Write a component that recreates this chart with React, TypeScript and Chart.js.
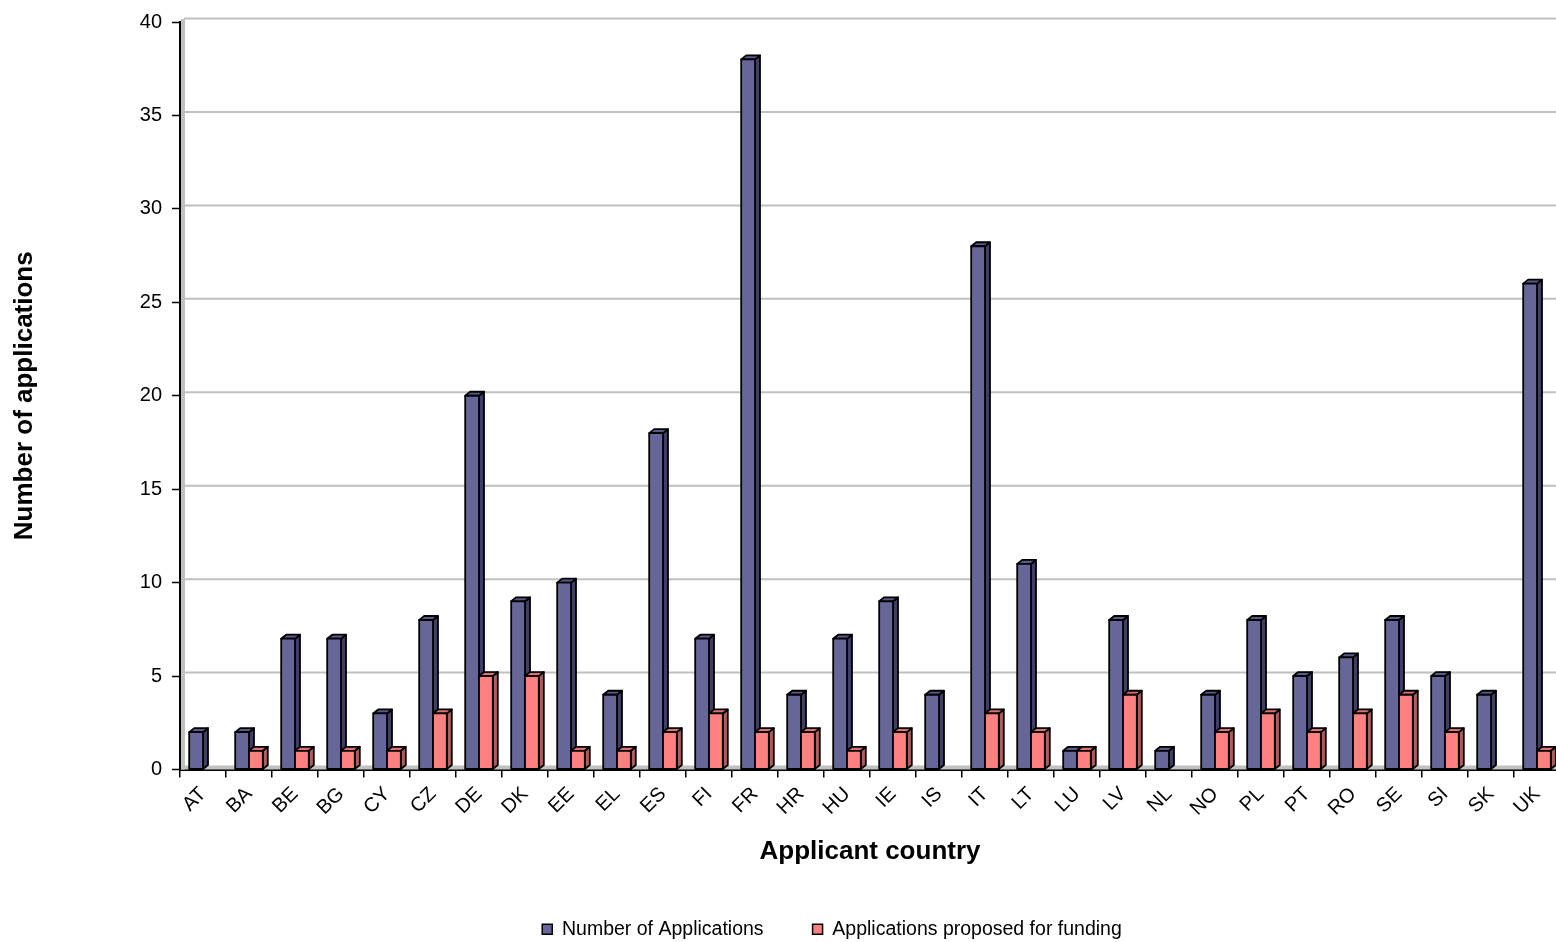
import React, { useEffect, useRef } from "react";
import { Chart, registerables } from "chart.js";

Chart.register(...registerables);

const categories = ["AT","BA","BE","BG","CY","CZ","DE","DK","EE","EL","ES","FI","FR","HR","HU","IE","IS","IT","LT","LU","LV","NL","NO","PL","PT","RO","SE","SI","SK","UK"];
const applications = [2,2,7,7,3,8,20,9,10,4,18,7,38,4,7,9,4,28,11,1,8,1,4,8,5,6,8,5,4,26];
const proposed = [0,1,1,1,1,3,5,5,1,1,2,3,2,2,1,2,0,3,2,1,4,0,2,3,2,3,4,2,0,1];
const yTicksMax = 40;
const yTickStep = 5;

const FONT = "'Liberation Sans', Arial, Helvetica, sans-serif";

const faceColors = [
  { front: "#666699", top: "#5a5a8a", side: "#3e3e66" },
  { front: "#ff8080", top: "#e07070", side: "#b35a5a" },
];

const depthPlugin = {
  id: "depth3d",
  afterLayout(chart: any) {
    const l = chart.legend;
    if (l) {
      l.left += 52;
      l.right += 52;
    }
  },
  beforeDatasetsDraw(chart: any) {
    const { ctx, chartArea } = chart;
    const { left, right, top, bottom } = chartArea;
    const dx = 5;
    const dy = -4;
    ctx.save();
    // back wall strip and floor
    ctx.fillStyle = "#c0c0c0";
    ctx.fillRect(left + 1, top - 3, 4, bottom - top + 3);
    ctx.fillRect(left + 1, bottom - 4, right - left, 4);
    // gridlines on the back wall
    const ys = chart.scales.y;
    ctx.strokeStyle = "#c0c0c0";
    ctx.lineWidth = 2;
    ys.ticks.forEach((t: any) => {
      if (t.value === 0) return;
      const py = ys.getPixelForValue(t.value) - 3.5;
      ctx.beginPath();
      ctx.moveTo(left + 4, py);
      ctx.lineTo(right, py);
      ctx.stroke();
    });
    ctx.lineWidth = 1.8;
    ctx.lineJoin = "round";
    ctx.strokeStyle = "#000";
    chart.data.datasets.forEach((ds: any, di: number) => {
      const meta = chart.getDatasetMeta(di);
      if (meta.hidden) return;
      const c = faceColors[di];
      meta.data.forEach((el: any, i: number) => {
        if (!ds.data[i]) return;
        const w = el.width;
        const l = el.x - w / 2;
        const r = el.x + w / 2;
        const y = el.y;
        const b = el.base;
        // side
        ctx.beginPath();
        ctx.moveTo(r, y);
        ctx.lineTo(r + dx, y + dy);
        ctx.lineTo(r + dx, b + dy);
        ctx.lineTo(r, b);
        ctx.closePath();
        ctx.fillStyle = c.side;
        ctx.fill();
        ctx.stroke();
        // top
        ctx.beginPath();
        ctx.moveTo(l, y);
        ctx.lineTo(l + dx, y + dy);
        ctx.lineTo(r + dx, y + dy);
        ctx.lineTo(r, y);
        ctx.closePath();
        ctx.fillStyle = c.top;
        ctx.fill();
        ctx.stroke();
        // front
        ctx.beginPath();
        ctx.rect(l, y, w, b - y);
        ctx.fillStyle = c.front;
        ctx.fill();
        ctx.stroke();
      });
    });
    ctx.restore();
    return false;
  },
};

export default function App() {
  const ref = useRef<HTMLCanvasElement | null>(null);

  useEffect(() => {
    if (!ref.current) return;
    const chart = new Chart(ref.current, {
      type: "bar",
      data: {
        labels: categories,
        datasets: [
          {
            label: "Number of Applications",
            data: applications,
            backgroundColor: faceColors[0].front,
            borderColor: "#000",
            borderWidth: 1.5,
          },
          {
            label: "Applications proposed for funding",
            data: proposed,
            backgroundColor: faceColors[1].front,
            borderColor: "#000",
            borderWidth: 1.5,
          },
        ],
      },
      options: {
        animation: false,
        responsive: false,
        layout: { padding: { top: 20, left: 0, right: 0, bottom: 0 } },
        datasets: {
          bar: { categoryPercentage: 0.6, barPercentage: 1.0 },
        },
        plugins: {
          tooltip: { enabled: false },
          legend: {
            position: "bottom",
            labels: {
              boxWidth: 10,
              boxHeight: 10,
              padding: 49,
              color: "#000",
              font: { family: FONT, size: 19.5 },
            },
          },
        },
        scales: {
          x: {
            offset: true,
            grid: {
              offset: true,
              drawOnChartArea: false,
              drawTicks: true,
              tickLength: 8,
              color: "#000",
              lineWidth: 1.5,
            },
            border: { display: true, color: "#000", width: 2 },
            ticks: {
              autoSkip: false,
              minRotation: 45,
              maxRotation: 45,
              padding: 5,
              color: "#000",
              font: { family: FONT, size: 20 },
            },
            title: {
              display: true,
              text: "Applicant country",
              color: "#000",
              font: { family: FONT, size: 26, weight: "bold" },
              padding: { top: 0, bottom: 3 },
            },
            afterFit: (s: any) => {
              s.height = 101;
            },
          },
          y: {
            min: 0,
            max: yTicksMax,
            grid: {
              drawOnChartArea: false,
              color: "#000",
              tickColor: "#000",
              tickLength: 8,
              tickWidth: 1.5,
            },
            border: { display: true, color: "#000", width: 2 },
            ticks: {
              stepSize: yTickStep,
              padding: 10,
              color: "#000",
              font: { family: FONT, size: 20 },
            },
            title: {
              display: true,
              text: "Number of applications",
              color: "#000",
              font: { family: FONT, size: 26, weight: "bold" },
              padding: { top: 9, bottom: 0 },
            },
            afterFit: (s: any) => {
              s.width = 180;
            },
          },
        },
      },
      plugins: [depthPlugin],
    } as any);
    return () => chart.destroy();
  }, []);

  return (
    <div
      style={{
        position: "absolute",
        left: 0,
        top: 0,
        width: 1556,
        height: 942,
        overflow: "hidden",
        background: "#fff",
      }}
    >
      <canvas ref={ref} width={1560} height={949} style={{ display: "block" }} />
    </div>
  );
}
